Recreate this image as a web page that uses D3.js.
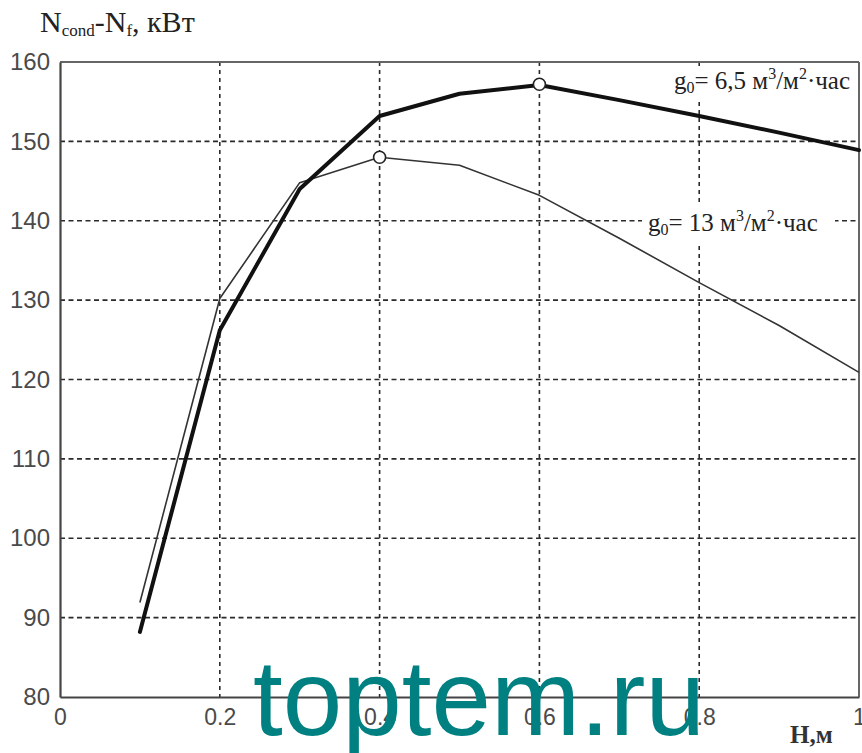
<!DOCTYPE html>
<html>
<head>
<meta charset="utf-8">
<script src="https://cdn.jsdelivr.net/npm/d3@7"></script>
<style>
  html, body { margin: 0; padding: 0; background: #fff; }
  svg { display: block; }
</style>
</head>
<body>
<svg id="chart" width="862" height="753"></svg>
<script>
// ---- data ----
const hValues = [0.1, 0.2, 0.3, 0.4, 0.5, 0.6, 0.7, 0.8, 0.9, 1.0];
const seriesG65 = [88.2, 126.2, 144.0, 153.2, 156.0, 157.1, 155.2, 153.2, 151.1, 148.9];
const seriesG13 = [91.9, 130.2, 144.8, 148.0, 147.0, 143.2, 137.8, 132.2, 126.8, 120.9];
const maxG65 = [0.6, 157.2];
const maxG13 = [0.4, 148.0];
const xTicks = [0, 0.2, 0.4, 0.6, 0.8, 1];
const xTickLabels = ["0", "0.2", "0.4", "0.6", "0.8", "1"];
const yTicks = [80, 90, 100, 110, 120, 130, 140, 150, 160];

(function () {
// ---- layout ----
const svg = d3.select("#chart");
const pL = 60, pR = 859, pT = 62, pB = 697;
const x = d3.scaleLinear().domain([0, 1]).range([pL, pR]);
const y = d3.scaleLinear().domain([80, 160]).range([pB, pT]);

const serif = "'Liberation Serif', 'Times New Roman', serif";
const sans = "'Liberation Sans', Arial, sans-serif";

// grid
const grid = svg.append("g");
grid.selectAll("line.h").data(yTicks.filter(d => d > 80 && d < 160)).join("line")
  .attr("x1", pL).attr("x2", pR)
  .attr("y1", d => y(d)).attr("y2", d => y(d))
  .attr("stroke", "#2a2a2a").attr("stroke-width", 1.6).attr("stroke-dasharray", "5,3.5");
grid.selectAll("line.v").data(xTicks.filter(d => d > 0 && d < 1)).join("line")
  .attr("x1", d => x(d)).attr("x2", d => x(d))
  .attr("y1", pT).attr("y2", pB)
  .attr("stroke", "#2a2a2a").attr("stroke-width", 1.6).attr("stroke-dasharray", "4,4");

// frame
svg.append("line").attr("x1", pL).attr("x2", pR).attr("y1", pT).attr("y2", pT)
  .attr("stroke", "#666").attr("stroke-width", 2);
svg.append("line").attr("x1", pR).attr("x2", pR).attr("y1", pT).attr("y2", pB)
  .attr("stroke", "#666").attr("stroke-width", 2);

// axes
const yAxis = d3.axisLeft(y).tickValues(yTicks).tickSize(0).tickPadding(10);
const gy = svg.append("g").attr("transform", `translate(${pL},0)`).call(yAxis);
gy.select(".domain").attr("stroke", "#444").attr("stroke-width", 2.2);
gy.selectAll("text").attr("font-family", sans).attr("font-size", 24).attr("fill", "#4a4a4a");

const xAxis = d3.axisBottom(x).tickValues(xTicks).tickFormat((d, i) => xTickLabels[i]).tickSize(0).tickPadding(12);
const gx = svg.append("g").attr("transform", `translate(0,${pB})`).call(xAxis);
gx.select(".domain").attr("stroke", "#444").attr("stroke-width", 2.2);
gx.selectAll("text").attr("font-family", sans).attr("font-size", 23).attr("fill", "#4a4a4a");

// legend label backgrounds (cover grid)
svg.append("rect").attr("x", 664).attr("y", 66).attr("width", 192).attr("height", 32).attr("fill", "#fff");
svg.append("rect").attr("x", 642).attr("y", 205).attr("width", 193).attr("height", 41).attr("fill", "#fff");

// lines
const line = d3.line().x((d, i) => x(hValues[i])).y(d => y(d));
svg.append("path").datum(seriesG13).attr("d", line)
  .attr("fill", "none").attr("stroke", "#333").attr("stroke-width", 1.6).attr("stroke-linejoin", "round");
svg.append("path").datum(seriesG65).attr("d", line)
  .attr("fill", "none").attr("stroke", "#111").attr("stroke-width", 4).attr("stroke-linejoin", "round").attr("stroke-linecap", "round");

// markers
svg.selectAll("circle.m").data([maxG65, maxG13]).join("circle")
  .attr("cx", d => x(d[0])).attr("cy", d => y(d[1])).attr("r", 6)
  .attr("fill", "#fff").attr("stroke", "#222").attr("stroke-width", 1.6);

// legend texts
function legend(xp, yp, val, anchor) {
  const t = svg.append("text").attr("x", xp).attr("y", yp)
    .attr("font-family", serif).attr("font-size", 25).attr("fill", "#222").attr("text-anchor", anchor);
  t.append("tspan").text("g");
  t.append("tspan").attr("font-size", 16).attr("dy", 4).text("0");
  t.append("tspan").attr("dy", -4).text("= " + val + " м");
  t.append("tspan").attr("font-size", 16).attr("dy", -10).text("3");
  t.append("tspan").attr("dy", 10).text("/м");
  t.append("tspan").attr("font-size", 16).attr("dy", -10).text("2");
  t.append("tspan").attr("dy", 10).text("·час");
}
legend(850, 89, "6,5", "end");
legend(648, 231, "13", "start");

// title
const title = svg.append("text").attr("x", 40).attr("y", 32)
  .attr("font-family", serif).attr("font-size", 30).attr("fill", "#222");
title.append("tspan").text("N");
title.append("tspan").attr("font-size", 17).attr("dy", 4).text("cond");
title.append("tspan").attr("dy", -4).text("-N");
title.append("tspan").attr("font-size", 17).attr("dy", 4).text("f");
title.append("tspan").attr("dy", -4).text(", кВт");

// x-axis label
svg.append("text").attr("x", 790).attr("y", 743)
  .attr("font-family", serif).attr("font-size", 25).attr("font-weight", "bold").attr("fill", "#333")
  .text("H,м");

// watermark
svg.append("text").attr("x", 253).attr("y", 735)
  .attr("font-family", sans).attr("font-size", 107).attr("fill", "#008080")
  .text("toptem.ru");
})();
</script>
</body>
</html>
